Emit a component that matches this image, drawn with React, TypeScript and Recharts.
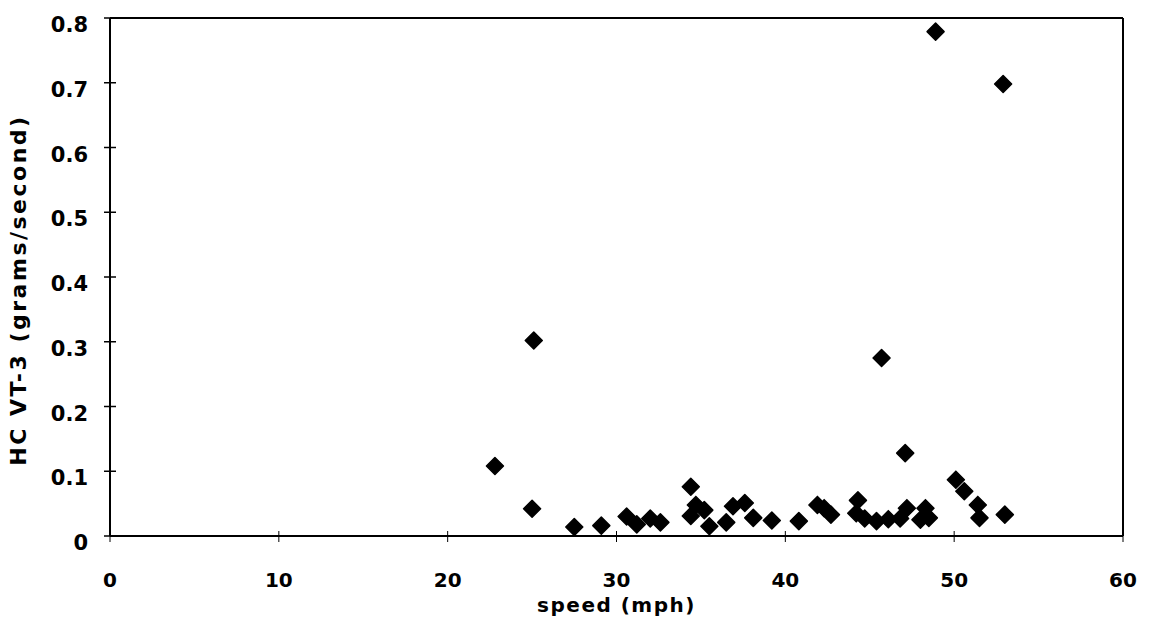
import { ScatterChart, Scatter, XAxis, YAxis, ReferenceLine, Label } from 'recharts'

// speed (mph) and HC VT-3 (grams/second)
const speeds = [
  22.8, 25.1, 25.0, 27.5, 29.1, 30.6, 31.2, 32.0, 32.6, 34.4,
  34.4, 34.7, 35.2, 35.5, 36.5, 36.9, 37.6, 38.1, 39.2, 40.8,
  41.9, 42.3, 42.7, 44.3, 44.2, 44.7, 45.4, 45.7, 46.1, 46.8,
  47.1, 47.2, 48.0, 48.3, 48.5, 48.9, 50.1, 50.6, 51.4, 51.5,
  52.9, 53.0,
]
const hcValues = [
  0.108, 0.302, 0.042, 0.014, 0.016, 0.030, 0.018, 0.027, 0.021, 0.076,
  0.031, 0.048, 0.040, 0.015, 0.021, 0.046, 0.051, 0.028, 0.024, 0.023,
  0.048, 0.043, 0.033, 0.055, 0.035, 0.027, 0.023, 0.275, 0.026, 0.027,
  0.128, 0.043, 0.025, 0.043, 0.028, 0.779, 0.087, 0.069, 0.048, 0.028,
  0.698, 0.033,
]
const xTicks = [0, 10, 20, 30, 40, 50, 60]
const yTicks = [0, 0.1, 0.2, 0.3, 0.4, 0.5, 0.6, 0.7, 0.8]

const data = speeds.map((speed, i) => ({ speed, hc: hcValues[i] }))

const FONT = '"DejaVu Sans", sans-serif'

function Diamond(props: any) {
  const { cx, cy } = props
  const r = 8.5
  return (
    <path
      d={`M${cx},${cy - r}L${cx + r},${cy}L${cx},${cy + r}L${cx - r},${cy}Z`}
      fill="#000"
      stroke="#000"
      strokeWidth={1.5}
      strokeLinejoin="round"
    />
  )
}

// tick text + a tick mark that crosses the axis
function YTick(props: any) {
  const { x, y, payload } = props
  const axisX = x + 22
  const v = payload.value
  return (
    <g>
      <line x1={axisX - 6} x2={axisX + 6} y1={y} y2={y} stroke="#000" strokeWidth={1.5} />
      <text x={x} y={y + 14} textAnchor="end" fontFamily={FONT} fontWeight="bold" fontSize={21} fill="#000">
        {v === 0 ? '0' : v.toFixed(1)}
      </text>
    </g>
  )
}

function XTick(props: any) {
  const { x, y, payload } = props
  const axisY = y - 37
  return (
    <g>
      <line x1={x} x2={x} y1={axisY - 5} y2={axisY + 6} stroke="#000" strokeWidth={1} />
      <text x={x} y={y + 14} textAnchor="middle" fontFamily={FONT} fontWeight="bold" fontSize={20} fill="#000">
        {payload.value}
      </text>
    </g>
  )
}

export default function App() {
  return (
    <div style={{ position: 'absolute', left: 0, top: 0, width: 1154, height: 623, background: '#fff' }}>
      <ScatterChart width={1154} height={623} margin={{ top: 18, right: 31, bottom: 7, left: 0 }}>
        <XAxis
          type="number"
          dataKey="speed"
          domain={[0, 60]}
          ticks={xTicks}
          height={80}
          tickSize={5}
          tickMargin={32}
          tickLine={false}
          tick={<XTick />}
          axisLine={{ stroke: '#000', strokeWidth: 2 }}
          interval={0}
        >
          <Label
            content={(p: any) => {
              const vb = p.viewBox
              return (
                <text x={vb.x + vb.width / 2} y={vb.y + 76} textAnchor="middle" fontFamily={FONT} fontWeight="bold" fontSize={20} letterSpacing={1.5} fill="#000">
                  speed (mph)
                </text>
              )
            }}
          />
        </XAxis>
        <YAxis
          type="number"
          dataKey="hc"
          domain={[0, 0.8]}
          ticks={yTicks}
          width={110}
          tickSize={6}
          tickMargin={16}
          tickLine={false}
          tick={<YTick />}
          axisLine={{ stroke: '#000', strokeWidth: 2 }}
          interval={0}
        >
          <Label
            content={(p: any) => {
              const vb = p.viewBox
              const cy = vb.y + vb.height / 2 + 13
              return (
                <text x={18} y={cy} transform={`rotate(-90, 18, ${cy})`} textAnchor="middle" dominantBaseline="central" fontFamily={FONT} fontWeight="bold" fontSize={22} letterSpacing={2.5} fill="#000">
                  HC VT-3 (grams/second)
                </text>
              )
            }}
          />
        </YAxis>
        <ReferenceLine y={0.8} stroke="#000" strokeWidth={2} />
        <ReferenceLine x={60} stroke="#000" strokeWidth={2} />
        <Scatter data={data} fill="#000" shape={<Diamond />} isAnimationActive={false} />
      </ScatterChart>
    </div>
  )
}
